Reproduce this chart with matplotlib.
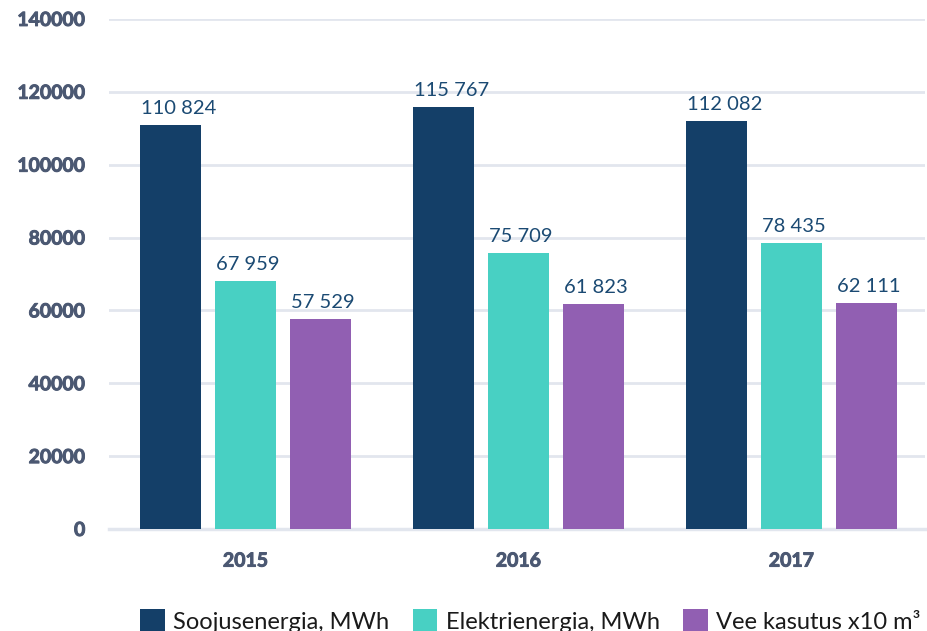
import numpy as np
import matplotlib.pyplot as plt
import matplotlib.patheffects as pe

plt.rcParams['font.family'] = ['Lato', 'DejaVu Sans']

years = ["2015", "2016", "2017"]
soojus = [110824, 115767, 112082]
elekter = [67959, 75709, 78435]
vesi = [57529, 61823, 62111]

series = [soojus, elekter, vesi]
names = ["Soojusenergia, MWh", "Elektrienergia, MWh", "Vee kasutus x10 m³"]
colors = ["#143f68", "#48d0c3", "#915fb2"]

fig = plt.figure(figsize=(9.27, 6.31), dpi=100)
ax = fig.add_axes([0.1176, 0.1617, 0.8804, 0.8083])

x = np.arange(len(years))
w = 0.223
step = 0.275
for i, (vals, name, c) in enumerate(zip(series, names, colors)):
    pos = x + (i - 1) * step
    ax.bar(pos, vals, width=w, color=c, label=name, zorder=3)
    for p, v in zip(pos, vals):
        txt = f"{v:,}".replace(",", " ")
        ax.text(p - w / 2 + 0.003, v + 2200, txt, ha="left", va="bottom",
                fontsize=14.5, color="#1b4a73", zorder=4)

ax.set_xlim(-0.5, 2.49)
ax.set_ylim(0, 140000)
ax.set_yticks(np.arange(0, 140001, 20000))
ax.set_xticks(x)
ax.set_xticklabels(years)

tick_col = "#4b5872"
for lab in ax.get_xticklabels() + ax.get_yticklabels():
    lab.set_fontweight("bold")
    lab.set_fontsize(14)
    lab.set_color(tick_col)
    lab.set_path_effects([pe.withStroke(linewidth=0.7, foreground=tick_col)])
ax.tick_params(axis="both", length=0)
ax.tick_params(axis="y", pad=17)
ax.tick_params(axis="x", pad=17)

ax.grid(axis="y", color="#e2e6ee", linewidth=2, zorder=0)
for sp in ["top", "right", "left"]:
    ax.spines[sp].set_visible(False)
ax.spines["bottom"].set_color("#e2e6ee")
ax.spines["bottom"].set_linewidth(2.5)

fig.legend(loc="center", bbox_to_anchor=(0.572, 1 - 621 / 631), ncol=3,
           frameon=False, fontsize=17, handlelength=1.05, handleheight=1.05,
           handletextpad=0.35, columnspacing=1.0, borderaxespad=0,
           labelcolor="#1a1a1a")

fig.savefig("out.png", dpi=100)
